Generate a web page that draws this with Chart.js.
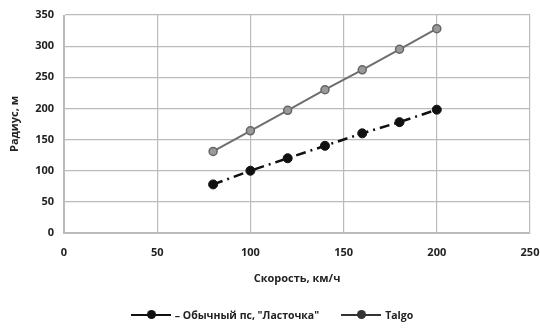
<!DOCTYPE html>
<html>
<head>
<meta charset="utf-8">
<script src="https://cdn.jsdelivr.net/npm/chart.js@4/dist/chart.umd.min.js"></script>
<style>
  body { margin: 0; background: #fff; }
  #wrap { position: relative; width: 540px; height: 329px; }
  #legend {
    position: absolute; left: 0; top: 308px; width: 540px; text-align: center;
    font: bold 10.5px "Open Sans", sans-serif; color: #222; padding-left: 4px; box-sizing: border-box;
  }
  .item { display: inline-flex; align-items: center; margin: 0 11px; }
  .sw { position: relative; width: 40px; height: 10px; margin-right: 4px; }
  .sw .ln { position: absolute; left: 0; right: 0; top: 4px; height: 2px; }
  .sw .dt { position: absolute; left: 16px; top: 0; width: 9px; height: 9px; border-radius: 50%; }
</style>
</head>
<body>
<div id="wrap">
  <canvas id="chart" width="540" height="329"></canvas>
  <div id="legend"></div>
</div>
<script>
const speeds = [80, 100, 120, 140, 160, 180, 200];
const lastochka = [78, 100, 120, 140, 160, 178, 198];
const talgo = [131, 164, 197, 230, 262, 295, 328];
const seriesNames = ["– Обычный пс, \"Ласточка\"", "Talgo"];

const toPoints = (ys) => speeds.map((x, i) => ({ x: x, y: ys[i] }));

const font = { family: "'Open Sans', sans-serif", weight: "bold", size: 11 };

new Chart(document.getElementById("chart").getContext("2d"), {
    type: "line",
    data: {
        datasets: [{
            label: seriesNames[0],
            data: toPoints(lastochka),
            borderColor: "#111",
            backgroundColor: "#111",
            borderWidth: 2.5,
            borderDash: [10, 5, 2, 5],
            pointRadius: 4.5,
            pointBorderWidth: 1,
        }, {
            label: seriesNames[1],
            data: toPoints(talgo),
            borderColor: "#6e6e6e",
            backgroundColor: "#9a9a9a",
            borderWidth: 2,
            pointRadius: 4,
            pointBorderColor: "#666",
            pointBorderWidth: 1.5,
        }],
    },
    options: {
        responsive: false,
        animation: false,
        layout: { padding: { left: 4, right: 0, top: 15, bottom: 40 } },
        plugins: { legend: { display: false }, tooltip: { enabled: false } },
        scales: {
            x: {
                type: "linear", min: 0, max: 250,
                ticks: { stepSize: 50, color: "#222", font: font, padding: 13 },
                grid: { color: "#bbb", lineWidth: 1.2, tickLength: 0 },
                border: { color: "#bbb" },
                title: { display: true, text: "Скорость, км/ч", color: "#222", font: font, padding: { top: 9, bottom: 4 } },
                afterFit: (s) => { s.height = 56; s.paddingRight = 10; s.paddingLeft = 0; },
            },
            y: {
                min: 0, max: 350,
                ticks: { stepSize: 50, color: "#222", font: font, padding: 10 },
                grid: { color: "#bbb", lineWidth: 1.2, tickLength: 0 },
                border: { color: "#bbb" },
                title: { display: true, text: "Радиус, м", color: "#222", font: font, padding: { bottom: 4 } },
                afterFit: (s) => { s.width = 60; s.paddingTop = 0; s.paddingBottom = 0; },
            },
        },
    },
});

const legend = document.getElementById("legend");
legend.innerHTML =
    '<span class="item"><span class="sw"><span class="ln" style="background:#111"></span><span class="dt" style="background:#111"></span></span>' + seriesNames[0] + '</span>' +
    '<span class="item"><span class="sw"><span class="ln" style="background:#333"></span><span class="dt" style="background:#333"></span></span>' + seriesNames[1] + '</span>';
</script>
</body>
</html>
